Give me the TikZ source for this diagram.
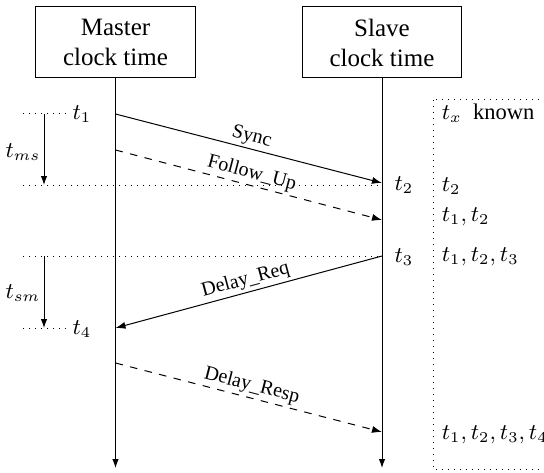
\documentclass[tikz,border=0pt]{standalone}
\usepackage{fontspec}
\setmainfont{Liberation Serif}
\usetikzlibrary{arrows.meta,positioning}

\begin{document}
\begin{tikzpicture}[
  x=0.4pt,y=-0.4pt,
  clk/.style={draw,align=center,minimum width=63.6pt,minimum height=28.4pt,inner sep=2pt},
  msg/.style={-{Latex[length=4pt,width=2.8pt]}},
  lbl/.style={font=\footnotesize,sloped,above,inner sep=1pt},
  tick/.style={dotted},
  ar/.style={-{Latex[length=3.6pt,width=2.6pt]}},
  tm/.style={font=\small},
  kn/.style={anchor=west,font=\small}
]
\useasboundingbox (0,0) rectangle (544,472);
\node[clk] (master) at (115.5,42.5) {Master\\clock time};
\node[clk] (slave) at (382,42.5) {Slave\\clock time};
\coordinate (mend) at (115.5,468); \coordinate (send) at (382,468);
\draw[ar] (master) -- (mend);
\draw[ar] (slave) -- (send);
\coordinate (m1) at (115.5,114); \coordinate (m2) at (115.5,150);
\coordinate (m4) at (115.5,328); \coordinate (m5) at (115.5,363);
\coordinate (s2) at (382,183); \coordinate (s3) at (382,220);
\coordinate (s4) at (382,256); \coordinate (s5) at (382,432);
\coordinate (a1) at (23,114); \coordinate (b1) at (66,114);
\coordinate (a2) at (23,185); \coordinate (b2) at (382,185);
\coordinate (a3) at (23,256); \coordinate (b3) at (382,256);
\coordinate (a4) at (23,328); \coordinate (b4) at (66,328);
\draw[tick] (a1) -- (b1); \draw[tick] (a2) -- (b2);
\draw[tick] (a3) -- (b3); \draw[tick] (a4) -- (b4);
\node[tm] (t1) at (82,114) {$t_1$};
\node[tm] (t2) at (404,185) {$t_2$};
\node[tm] (t3) at (404,257) {$t_3$};
\node[tm] (t4) at (82,329) {$t_4$};
\coordinate (ms1) at (44,114); \coordinate (ms2) at (44,185);
\coordinate (sm1) at (44,256); \coordinate (sm2) at (44,328);
\draw[ar] (ms1) -- (ms2); \draw[ar] (sm1) -- (sm2);
\node[tm] (tms) at (23,152) {$t_{ms}$};
\node[tm] (tsm) at (23,293) {$t_{sm}$};
\draw[msg] (m1) -- node[lbl] {Sync} (s2);
\draw[msg,dashed] (m2) -- node[lbl] {Follow\_Up} (s3);
\draw[msg] (s4) -- node[lbl] {Delay\_Req} (m4);
\draw[msg,dashed] (m5) -- node[lbl] {Delay\_Resp} (s5);
\draw[dotted] (433,100) rectangle (549,469);
\node[kn] (k0) at (433,113) {$t_x$\enspace known};
\node[kn] (k1) at (433,186) {$t_2$};
\node[kn] (k2) at (433,217) {$t_1,t_2$};
\node[kn] (k3) at (433,257) {$t_1,t_2,t_3$};
\node[kn] (k4) at (433,435) {$t_1,t_2,t_3,t_4$};
\end{tikzpicture}
\end{document}
